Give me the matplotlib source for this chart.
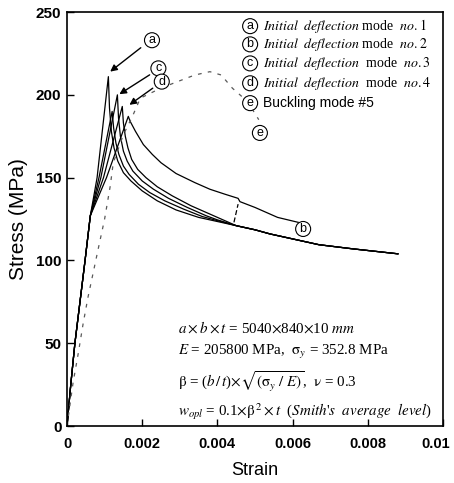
import matplotlib
matplotlib.use("Agg")
import matplotlib.pyplot as plt
import matplotlib.transforms as mtransforms

plt.rcParams['font.family'] = ['Liberation Sans', 'DejaVu Sans']
plt.rcParams['mathtext.fontset'] = 'stix'

# shared elastic part of the solid curves
rise_strain = [0, 0.0001, 0.00021, 0.00048, 0.00062]
rise_stress = [0, 25, 50, 100, 127]

# shared tail where the lower curves merge
tail_strain = [0.0045, 0.005, 0.0054, 0.006, 0.0067, 0.0076, 0.0088]
tail_stress = [121, 118.5, 116, 113, 109.5, 107, 104]

# mode no.1 (a)
a_strain = [0.0008, 0.0011, 0.00113, 0.00118, 0.00125, 0.00135, 0.0015, 0.0017,
            0.002, 0.0024, 0.0029, 0.0035, 0.004]
a_stress = [150, 211, 192, 178, 168, 160, 153, 148, 142, 136, 130.5, 126, 123.5]
# unlabelled curve peaking near 190
x_strain = [0.00085, 0.0012, 0.00124, 0.0013, 0.00138, 0.0015, 0.00165, 0.0019,
            0.0022, 0.0026, 0.0031, 0.0036, 0.004]
x_stress = [150, 190, 180, 171, 164, 157, 152, 146, 141, 136, 131, 126.5, 124]
# mode no.3 (c)
c_strain = [0.0009, 0.00134, 0.00137, 0.00142, 0.0015, 0.0016, 0.00175, 0.002,
            0.0023, 0.0027, 0.0032, 0.0037, 0.004]
c_stress = [150, 200, 186, 175, 166, 160, 154, 148, 143, 137.5, 132, 127, 124.5]
# mode no.4 (d)
d_strain = [0.00097, 0.00147, 0.0015, 0.00155, 0.00162, 0.00172, 0.00188, 0.0021,
            0.0024, 0.0028, 0.0033, 0.0038, 0.0041]
d_stress = [150, 193, 183, 175, 168, 161, 155, 150, 144.5, 139, 133, 128, 125]
# mode no.2 (b)
b_strain = [0.00105, 0.00163, 0.00168, 0.00182, 0.00203, 0.00227, 0.0025, 0.0029,
            0.0034, 0.0038, 0.0042, 0.00455, 0.0046, 0.005, 0.0056, 0.00615]
b_stress = [150, 187, 184, 178, 170, 164, 159, 152.5, 147, 143, 140, 137.5, 135.5,
            132, 126, 123]

# buckling mode #5 (e)
e_strain = [0, 0.00016, 0.0003, 0.00043, 0.00056, 0.0007, 0.00083, 0.001, 0.00115,
            0.00123, 0.0015, 0.00174, 0.00195, 0.00249, 0.00294, 0.0034, 0.0038,
            0.0041, 0.0044, 0.0048, 0.0051]
e_stress = [0, 26, 44, 62, 78, 93, 107, 125, 145, 159, 176, 187, 198, 204, 208,
            212, 214, 212, 204, 196, 185]

# short dashed link between curves
link_strain = [0.00444, 0.00455]
link_stress = [123, 134]

x_ticks = [0, 0.002, 0.004, 0.006, 0.008, 0.01]
x_labels = ['0', '0.002', '0.004', '0.006', '0.008', '0.01']
y_ticks = [0, 50, 100, 150, 200, 250]

legend_lines = [
    ('a', r'$\mathit{Initial\ \ deflection}$ mode  $\mathit{no.1}$'),
    ('b', r'$\mathit{Initial\ \ deflection}$ mode  $\mathit{no.2}$'),
    ('c', r'$\mathit{Initial\ \ deflection}$  mode  $\mathit{no.3}$'),
    ('d', r'$\mathit{Initial\ \ deflection}$  mode  $\mathit{no.4}$'),
]

info_lines = [
    r"$a\times b\times t$ = 5040$\times$840$\times$10 $mm$",
    r"$E$ = 205800 MPa,  $\mathrm{\sigma}_y$ = 352.8 MPa",
    r"$\mathrm{\beta}$ = ($b\,/\,t$)$\times\sqrt{(\mathrm{\sigma}_y\ /\ E)}$,  $\mathrm{\nu}$ = 0.3",
    r"$w_{opl}$ = 0.1$\times\mathrm{\beta}^{\,2}\times t$  ($Smith$'$s\ \ average\ \ level$)",
]

fig = plt.figure(figsize=(4.54, 4.83), dpi=100)
ax = fig.add_axes([0.1476, 0.118, 0.8282, 0.857])

for s, p in [(a_strain, a_stress), (x_strain, x_stress), (c_strain, c_stress),
             (d_strain, d_stress)]:
    ax.plot(rise_strain + s + tail_strain, rise_stress + p + tail_stress,
            color='black', lw=0.9)
ax.plot(rise_strain + b_strain, rise_stress + b_stress, color='black', lw=0.9)
ax.plot(e_strain, e_stress, color='0.35', lw=0.9, ls=(0, (3, 5)))
ax.plot(link_strain, link_stress, color='black', lw=0.9, ls=(0, (4, 2)))

circ = dict(boxstyle='circle,pad=0.12', fc='white', ec='black', lw=0.8)


def circled(x, y, letter):
    ax.text(x, y, letter, fontsize=9, ha='center', va='center', bbox=circ)


# arrows to the peaks
arrow = dict(arrowstyle='-|>', color='black', lw=1.0, mutation_scale=10)
ax.annotate('', xy=(0.00109, 213), xytext=(0.00202, 229.5), arrowprops=arrow)
ax.annotate('', xy=(0.00133, 199.5), xytext=(0.00226, 213), arrowprops=arrow)
ax.annotate('', xy=(0.0016, 193), xytext=(0.00234, 205), arrowprops=arrow)

circled(0.00226, 233, 'a')
circled(0.00243, 216, 'c')
circled(0.00252, 208, 'd')
circled(0.00513, 177, 'e')
circled(0.00628, 119, 'b')

# mode list in the top right
leg_y = [241.5, 230.5, 219, 207]
for (letter, txt), yy in zip(legend_lines, leg_y):
    circled(0.00487, yy, letter)
    ax.text(0.0052, yy, txt, fontsize=10, ha='left', va='center',
            family=['Liberation Serif', 'DejaVu Serif'])
circled(0.00487, 195, 'e')
ax.text(0.0052, 195, 'Buckling mode #5', fontsize=10, ha='left', va='center')

# plate data
info_y = [59.5, 44.5, 26.5, 8.5]
for txt, yy in zip(info_lines, info_y):
    ax.text(0.00295, yy, txt, fontsize=10.8, ha='left', va='center',
            family=['Liberation Serif', 'DejaVu Serif'])

ax.set_xlim(0, 0.01)
ax.set_ylim(0, 250)
ax.set_xticks(x_ticks)
ax.set_xticklabels(x_labels, fontweight='bold', fontsize=10.5)
ax.set_yticks(y_ticks)
ax.set_yticklabels([str(v) for v in y_ticks], fontweight='bold', fontsize=11)
ax.tick_params(direction='in', length=5, width=1)
ax.tick_params(axis='x', pad=8)
ax.tick_params(axis='y', pad=4)
for sp in ax.spines.values():
    sp.set_linewidth(1.2)

# keep the last x label inside the figure
last = ax.get_xticklabels()[-1]
last.set_transform(last.get_transform() +
                   mtransforms.ScaledTranslation(-5 / 72, 0, fig.dpi_scale_trans))

ax.set_xlabel('Strain', fontsize=13, labelpad=8)
ax.set_ylabel('Stress (MPa)', fontsize=15, labelpad=6)

fig.savefig('out.png', dpi=100)
